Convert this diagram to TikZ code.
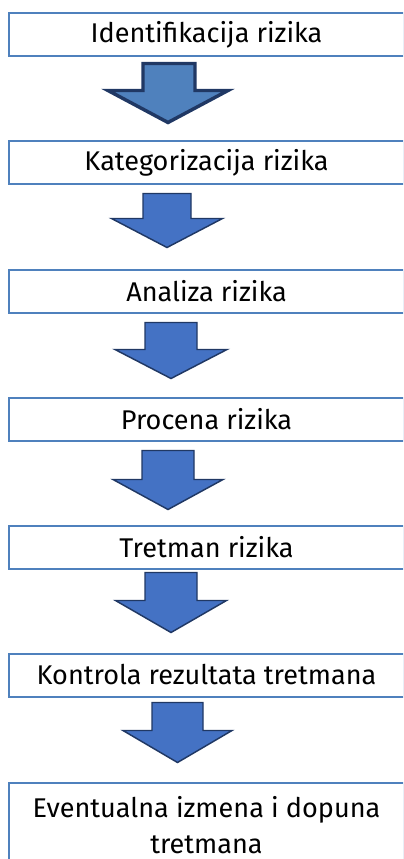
\documentclass[tikz,border=0pt]{standalone}
\usepackage{fontspec}
\setmainfont{Fira Sans}
\usetikzlibrary{positioning}

\definecolor{boxblue}{HTML}{4F81BD}
\definecolor{arrowfill}{HTML}{4472C4}
\definecolor{arrowline}{HTML}{203864}

\tikzset{
    stepbox/.style={draw=boxblue, line width=1.5pt, fill=white,
        minimum width=296.25pt, minimum height=32.25pt, inner sep=0pt,
        outer sep=0pt, font=\fontsize{20.3}{26.5}\selectfont, align=center},
    blockarrow/.style={draw=arrowline, line width=1.1pt, fill=arrowfill,
        line join=miter},
    firstarrow/.style={draw=arrowline, line width=2.6pt, fill=boxblue,
        line join=miter}
}

\begin{document}
\begin{tikzpicture}[x=0.75pt, y=0.75pt]
    \useasboundingbox (0,0) rectangle (403,-859);
    \begin{scope}
    \clip (0,0) rectangle (403,-859);

    % koraci procesa
    \node[stepbox] (ident) at (206.5,-35) {Identifikacija rizika};
    \node[stepbox, below=63.75pt of ident] (kateg) {Kategorizacija rizika};
    \node[stepbox, below=63.75pt of kateg] (anal) {Analiza rizika};
    \node[stepbox, below=63.75pt of anal] (proc) {Procena rizika};
    \node[stepbox, below=63.75pt of proc] (tret) {Tretman rizika};
    \node[stepbox, below=63.75pt of tret] (kontr) {Kontrola rezultata tretmana};
    \node[stepbox, minimum height=64pt, anchor=north,
          below=64.5pt of kontr] (izmena) {Eventualna izmena i dopuna\\tretmana};

    % strelice izmedju koraka
    \draw[firstarrow, shift={(ident.south)}] (-63.5,-7) -- (-63.5,-34)
        -- (-98.5,-34) -- (-38.5,-66) -- (21.5,-34) -- (-11.5,-34)
        -- (-11.5,-7) -- cycle;
    \foreach \stepname/\cx/\gap/\sw/\hw/\hs/\len in
        {kateg/-39.5/9/24/55.5/25/54, anal/-35.5/10/26/56/27/56,
         proc/-38.5/10/26/55/29/59, tret/-35.5/4/26/55.5/28/60,
         kontr/-29/6/25.5/54.5/28/60}{
        \draw[blockarrow, shift={(\stepname.south)}]
            (\cx-\sw,-\gap) -- (\cx-\sw,-\gap-\hs)
            -- (\cx-\hw,-\gap-\hs) -- (\cx,-\gap-\len)
            -- (\cx+\hw,-\gap-\hs) -- (\cx+\sw,-\gap-\hs)
            -- (\cx+\sw,-\gap) -- cycle;
    }
    \end{scope}
\end{tikzpicture}
\end{document}
